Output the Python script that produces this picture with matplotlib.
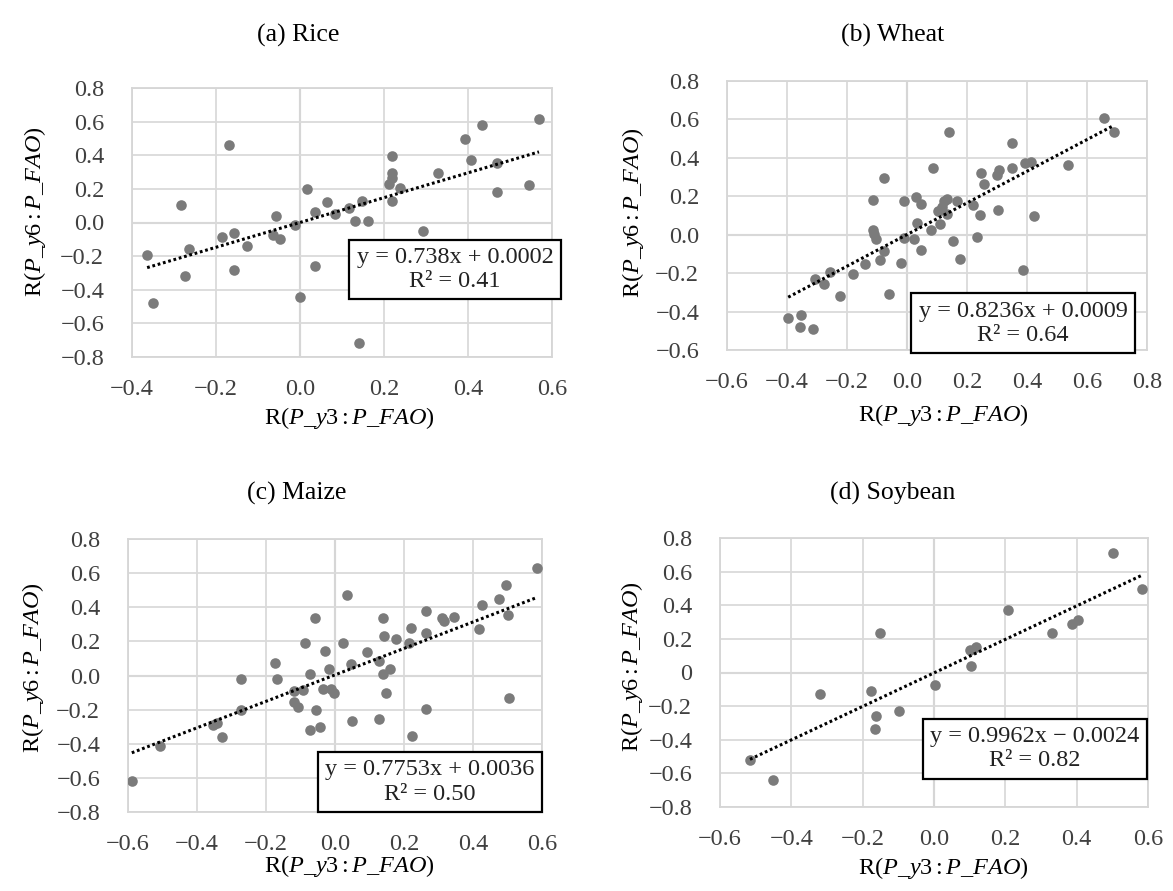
import matplotlib.pyplot as plt
import numpy as np

plt.rcParams['font.family'] = ['Liberation Serif', 'DejaVu Serif']
plt.rcParams['mathtext.fontset'] = 'custom'
plt.rcParams['mathtext.rm'] = 'Liberation Serif'
plt.rcParams['mathtext.it'] = 'Liberation Serif:italic'
plt.rcParams['mathtext.default'] = 'it'

# data
rice_x = [-0.364, -0.351, -0.283, -0.274, -0.265, -0.185, -0.169, -0.156, -0.156, -0.126,
          -0.056, -0.064, -0.048, -0.013, -0.001, 0.017, 0.035, 0.035, 0.065, 0.083,
          0.116, 0.132, 0.147, 0.140, 0.163, 0.219, 0.219, 0.219, 0.212, 0.219,
          0.239, 0.292, 0.328, 0.394, 0.407, 0.434, 0.470, 0.470, 0.546, 0.569]
rice_y = [-0.192, -0.480, 0.105, -0.318, -0.160, -0.089, 0.462, -0.065, -0.282, -0.138,
          0.040, -0.073, -0.099, -0.014, -0.444, 0.198, 0.063, -0.259, 0.119, 0.050,
          0.089, 0.010, 0.125, -0.717, 0.010, 0.393, 0.296, 0.267, 0.231, 0.128,
          0.204, -0.049, 0.292, 0.498, 0.369, 0.577, 0.352, 0.184, 0.223, 0.616]

wheat_x = [-0.396, -0.353, -0.356, -0.313, -0.306, -0.276, -0.257, -0.224, -0.181, -0.141,
           -0.113, -0.113, -0.109, -0.103, -0.091, -0.078, -0.078, -0.060, -0.019, -0.011,
           -0.011, 0.023, 0.030, 0.045, 0.033, 0.045, 0.080, 0.087, 0.109, 0.103,
           0.115, 0.122, 0.134, 0.134, 0.140, 0.152, 0.165, 0.175, 0.220, 0.233,
           0.242, 0.247, 0.255, 0.300, 0.307, 0.304, 0.350, 0.350, 0.387, 0.393,
           0.412, 0.424, 0.535, 0.656, 0.689]
wheat_y = [-0.431, -0.418, -0.479, -0.493, -0.228, -0.254, -0.194, -0.320, -0.202, -0.151,
           0.181, 0.022, 0.002, -0.021, -0.133, -0.087, 0.294, -0.306, -0.145, 0.174,
           -0.016, -0.021, 0.195, 0.160, 0.060, -0.081, 0.022, 0.345, 0.057, 0.126,
           0.143, 0.178, 0.109, 0.186, 0.536, -0.033, 0.174, -0.125, 0.157, -0.012,
           0.100, 0.320, 0.264, 0.313, 0.337, 0.131, 0.477, 0.347, -0.185, 0.371,
           0.377, 0.095, 0.363, 0.608, 0.536]

maize_x = [-0.589, -0.507, -0.354, -0.341, -0.327, -0.272, -0.272, -0.174, -0.168, -0.119,
           -0.119, -0.108, -0.092, -0.086, -0.072, -0.072, -0.059, -0.054, -0.043, -0.035,
           -0.028, -0.017, -0.013, -0.004, 0.023, 0.034, 0.045, 0.048, 0.092, 0.127,
           0.127, 0.138, 0.143, 0.140, 0.147, 0.160, 0.176, 0.214, 0.220, 0.223,
           0.263, 0.263, 0.263, 0.310, 0.316, 0.345, 0.416, 0.427, 0.476, 0.496,
           0.502, 0.504, 0.586]
maize_y = [-0.620, -0.416, -0.290, -0.276, -0.360, -0.023, -0.204, 0.071, -0.023, -0.091,
           -0.153, -0.184, -0.087, 0.191, 0.006, -0.321, 0.337, -0.204, -0.299, -0.077,
           0.142, 0.041, -0.081, -0.105, 0.191, 0.473, 0.065, -0.266, 0.139, 0.084,
           -0.256, 0.337, 0.230, 0.006, -0.105, 0.041, 0.211, 0.191, 0.279, -0.354,
           0.376, 0.247, -0.198, 0.337, 0.318, 0.341, 0.275, 0.411, 0.446, 0.532,
           0.353, -0.130, 0.629]

soy_x = [-0.516, -0.451, -0.320, -0.177, -0.163, -0.165, -0.151, -0.098, 0.002, 0.100,
         0.119, 0.103, 0.208, 0.331, 0.388, 0.403, 0.502, 0.584]
soy_y = [-0.523, -0.638, -0.128, -0.112, -0.260, -0.339, 0.232, -0.230, -0.072, 0.135,
         0.149, 0.041, 0.373, 0.232, 0.286, 0.313, 0.711, 0.499]

titles = ['(a) Rice', '(b) Wheat', '(c) Maize', '(d) Soybean']
slopes = [0.738, 0.8236, 0.7753, 0.9962]
intercepts = [0.0002, 0.0009, 0.0036, -0.0024]
equations = ['y = 0.738x + 0.0002', 'y = 0.8236x + 0.0009',
             'y = 0.7753x + 0.0036', 'y = 0.9962x \u2212 0.0024']
r2_labels = ['0.41', '0.64', '0.50', '0.82']
xticks = [[-0.4, -0.2, 0.0, 0.2, 0.4, 0.6],
          [-0.6, -0.4, -0.2, 0.0, 0.2, 0.4, 0.6, 0.8],
          [-0.6, -0.4, -0.2, 0.0, 0.2, 0.4, 0.6],
          [-0.6, -0.4, -0.2, 0.0, 0.2, 0.4, 0.6]]
yticks = [[-0.8, -0.6, -0.4, -0.2, 0.0, 0.2, 0.4, 0.6, 0.8],
          [-0.6, -0.4, -0.2, 0.0, 0.2, 0.4, 0.6, 0.8],
          [-0.8, -0.6, -0.4, -0.2, 0.0, 0.2, 0.4, 0.6, 0.8],
          [-0.8, -0.6, -0.4, -0.2, 0.0, 0.2, 0.4, 0.6, 0.8]]
yzero = ['0.0', '0.0', '0.0', '0']

xs_all = [rice_x, wheat_x, maize_x, soy_x]
ys_all = [rice_y, wheat_y, maize_y, soy_y]

# layout in pixels: plot box (left, top, right, bottom)
boxes = [(132, 88, 552, 357), (727, 81, 1147, 350), (128, 539, 542, 812), (720, 538, 1148, 807)]
title_pos = [(298, 35), (893, 35), (297, 493), (893, 493)]
xlabel_pos = [(349, 418), (943, 415), (349, 866), (943, 868)]
ylabel_pos = [(35, 212), (633, 213), (33, 668), (632, 667)]
eq_pos = [(0.769, 0.325), (0.705, 0.10), (0.729, 0.11), (0.736, 0.216)]

W, H = 1173, 891
fig = plt.figure(figsize=(W / 100, H / 100), dpi=100)


def fmt(v, zero='0.0'):
    if abs(v) < 1e-9:
        return zero
    return ('%.1f' % v).replace('-', '\u2212')


for i in range(4):
    l, t, r, b = boxes[i]
    ax = fig.add_axes([l / W, 1 - b / H, (r - l) / W, (b - t) / H])
    xt = xticks[i]
    yt = yticks[i]
    ax.set_xlim(xt[0], xt[-1])
    ax.set_ylim(yt[0], yt[-1])
    ax.set_xticks(xt)
    ax.set_xticklabels([fmt(v) for v in xt])
    ax.set_yticks(yt)
    ax.set_yticklabels([fmt(v, yzero[i]) for v in yt])
    ax.grid(color='#dadada', lw=1.3, zorder=0)
    ax.axvline(0, color='#b8b8b8', lw=1.5, zorder=1)
    ax.axhline(0, color='#c8c8c8', lw=1.5, zorder=1)
    for sp in ax.spines.values():
        sp.set_color('#d6d6d6')
        sp.set_linewidth(1.3)
    ax.tick_params(length=0, labelsize=17.5, colors='#404040')
    ax.tick_params(axis='y', pad=20)
    ax.tick_params(axis='x', pad=16)

    ax.scatter(xs_all[i], ys_all[i], s=58, color='#7b7b7b', linewidths=0, zorder=3)
    xx = np.array([min(xs_all[i]), max(xs_all[i])])
    ax.plot(xx, slopes[i] * xx + intercepts[i], color='black', lw=2.2,
            ls=(0, (0.9, 0.9)), zorder=4)

    ax.text(eq_pos[i][0], eq_pos[i][1], equations[i] + '\nR\u00b2 = ' + r2_labels[i],
            transform=ax.transAxes, ha='center', va='center', multialignment='center',
            fontsize=17.5, linespacing=1.2, color='#222222', zorder=6,
            bbox=dict(boxstyle='square,pad=0.3', fc='white', ec='black', lw=1.6))

    fig.text(title_pos[i][0] / W, 1 - title_pos[i][1] / H, titles[i],
             ha='center', va='center', fontsize=18.5)
    fig.text(xlabel_pos[i][0] / W, 1 - xlabel_pos[i][1] / H, r'R$(P\_y3:P\_FAO)$',
             ha='center', va='center', fontsize=17.5)
    fig.text(ylabel_pos[i][0] / W, 1 - ylabel_pos[i][1] / H, r'R$(P\_y6:P\_FAO)$',
             ha='center', va='center', rotation=90, fontsize=17.5)

fig.savefig('out.png', dpi=100)
